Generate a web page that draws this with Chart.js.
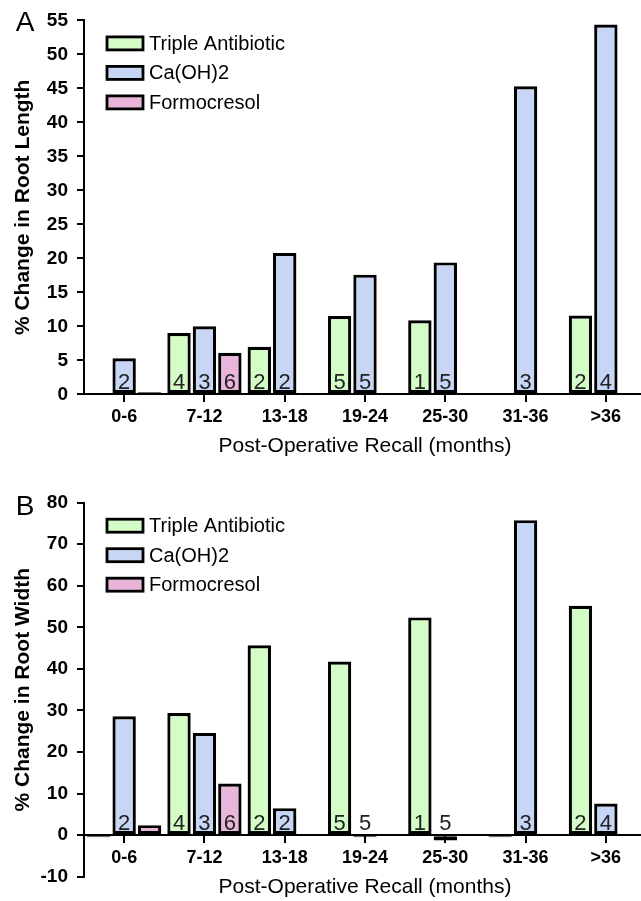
<!DOCTYPE html>
<html>
<head>
<meta charset="utf-8">
<script src="https://cdn.jsdelivr.net/npm/chart.js@4.4.0/dist/chart.umd.min.js"></script>
<style>
  html, body { margin: 0; padding: 0; background: #fff; overflow: hidden; }
  canvas { display: block; }
</style>
</head>
<body>
<canvas id="chartA" width="646" height="465"></canvas>
<canvas id="chartB" width="646" height="436"></canvas>
<script>
const recallGroups = ["0-6", "7-12", "13-18", "19-24", "25-30", "31-36", ">36"];
const seriesNames = ["Triple Antibiotic", "Ca(OH)2", "Formocresol"];

// panel A - % change in root length
const lengthTriple = [null, 9.0, 7.0, 11.5, 10.9, null, 11.6];
const lengthCaOH = [5.3, 10.0, 20.8, 17.6, 19.4, 45.3, 54.4];
const lengthFormo = [0.3, 6.1, null, null, null, null, null];

// panel B - % change in root width
const widthTriple = [-0.5, 29.4, 45.7, 41.8, 52.4, -0.5, 55.2];
const widthCaOH = [28.6, 24.6, 6.5, -0.5, -1.3, 75.8, 7.6];
const widthFormo = [2.4, 12.4, null, null, null, null, null];

// number of teeth written on each bar
const nTriple = [null, 4, 2, 5, 1, null, 2];
const nCaOH = [2, 3, 2, 5, 5, 3, 4];
const nFormo = [null, 6, null, null, null, null, null];

// y tick range [min, max, step]
const lengthTicks = [0, 55, 5];
const widthTicks = [-10, 80, 10];

const fillColors = ["#d4fcc6", "#c7d6f4", "#e9b5db"];
const FONT = "'Liberation Sans', Arial, sans-serif";

Chart.defaults.font.family = FONT;
Chart.defaults.color = "#000";

const countLabels = {
  id: "countLabels",
  afterDatasetsDraw(chart) {
    const ctx = chart.ctx;
    const zeroY = chart.scales.y.getPixelForValue(0);
    ctx.save();
    ctx.font = "22px " + FONT;
    ctx.fillStyle = "#222";
    ctx.textAlign = "center";
    ctx.textBaseline = "alphabetic";
    chart.data.datasets.forEach(function (ds, i) {
      const meta = chart.getDatasetMeta(i);
      meta.data.forEach(function (bar, j) {
        const n = ds.counts[j];
        if (n == null) return;
        ctx.fillText(String(n), bar.x, zeroY - 5);
      });
    });
    ctx.restore();
  }
};

// legend sits inside the plot, top left, one row per series
const boxLegend = {
  id: "boxLegend",
  afterDraw(chart) {
    const ctx = chart.ctx;
    const top = chart.chartArea.top;
    ctx.save();
    ctx.font = "20px " + FONT;
    ctx.textBaseline = "middle";
    chart.data.datasets.forEach(function (ds, i) {
      const y = top + 23 + i * 29.5;
      ctx.fillStyle = ds.backgroundColor;
      ctx.fillRect(107, y - 6.5, 36, 13);
      ctx.lineWidth = 2.8;
      ctx.strokeStyle = "#000";
      ctx.strokeRect(107, y - 6.5, 36, 13);
      ctx.fillStyle = "#000";
      ctx.fillText(ds.label, 149, y + 1);
    });
    ctx.restore();
  }
};

const panelLetter = {
  id: "panelLetter",
  afterDraw(chart, args, opts) {
    const ctx = chart.ctx;
    ctx.save();
    ctx.font = "28px " + FONT;
    ctx.fillStyle = "#000";
    ctx.textAlign = "center";
    ctx.textBaseline = "middle";
    ctx.fillText(opts.text, 25, opts.y);
    ctx.restore();
  }
};

function makeChart(canvasId, letter, letterY, yTitle, seriesValues, ticks, padTop, padBottom) {
  const counts = [nTriple, nCaOH, nFormo];
  const datasets = seriesValues.map(function (vals, i) {
    return {
      label: seriesNames[i],
      data: vals,
      counts: counts[i],
      backgroundColor: fillColors[i],
      borderColor: "#000",
      borderWidth: 3.2,
      borderSkipped: false,
      barPercentage: 0.92,
      categoryPercentage: 0.95
    };
  });

  return new Chart(document.getElementById(canvasId), {
    type: "bar",
    data: { labels: recallGroups, datasets: datasets },
    plugins: [countLabels, boxLegend, panelLetter],
    options: {
      responsive: false,
      animation: false,
      events: [],
      layout: { padding: { top: padTop, bottom: padBottom, left: 0, right: 0 } },
      plugins: {
        legend: { display: false },
        tooltip: { enabled: false },
        panelLetter: { text: letter, y: letterY }
      },
      scales: {
        x: {
          position: { y: 0 },
          grid: { offset: false, drawOnChartArea: false, drawTicks: true, tickLength: 7, color: "#000", lineWidth: 2 },
          border: { display: true, color: "#000", width: 2 },
          ticks: { font: { size: 18, weight: "bold" }, padding: 5, color: "#000", maxRotation: 0 },
          title: { display: true, text: "Post-Operative Recall (months)", font: { size: 21 }, padding: 0, color: "#000" },
          afterFit: function (scale) { scale.height = 65; }
        },
        y: {
          min: ticks[0],
          max: ticks[1],
          ticks: { stepSize: ticks[2], font: { size: 19, weight: "bold" }, padding: 9, color: "#000" },
          grid: { drawOnChartArea: false, drawTicks: true, tickLength: 7, color: "#000", lineWidth: 2 },
          border: { display: true, color: "#000", width: 2 },
          title: { display: true, text: yTitle, font: { size: 21, weight: "bold" }, padding: { top: 11, bottom: 0 }, color: "#000" },
          afterFit: function (scale) { scale.width = 84; }
        }
      }
    }
  });
}

makeChart("chartA", "A", 23, "% Change in Root Length",
  [lengthTriple, lengthCaOH, lengthFormo], lengthTicks, 20.3, 70.7);
makeChart("chartB", "B", 42, "% Change in Root Width",
  [widthTriple, widthCaOH, widthFormo], widthTicks, 37.7, 24.3);
</script>
</body>
</html>
